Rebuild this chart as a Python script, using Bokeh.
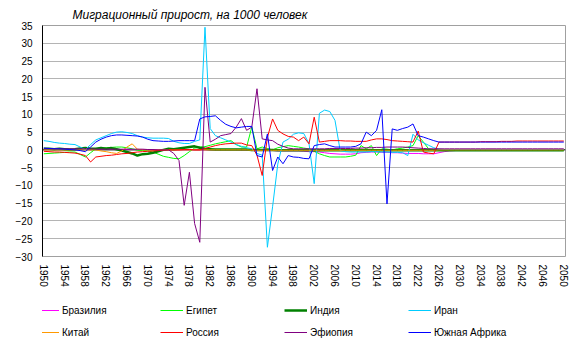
from bokeh.plotting import figure
from bokeh.layouts import column
from bokeh.models import Legend, LegendItem, Span, FixedTicker, Range1d
from bokeh.embed import file_html
from bokeh.resources import INLINE

years = list(range(1950, 2051))

brazil = [0.1]*25 + [0.0]*13 + [-0.1, -0.1] + [-0.2]*5 + [-0.3]*5 + \
    [-0.4, -0.5, -0.5, -0.6, -0.8, -1.0, -1.1, -1.2, -1.2, -1.2] + \
    [-1.1, -0.8, -0.7, -0.6, -0.6, -0.7, -0.7, -0.8, -0.8, -0.9] + \
    [-1.0, -1.0, -1.0, -1.1, -1.1, -1.1, -0.8, -0.5, -0.3, -0.2] + [-0.1]*21

egypt = [-1.1, -1.0, -0.9, -0.8, -0.7, -0.6, -0.6, -1.3, -2.0, -0.8,
         0.3, 0.5, 0.6, 0.7, 0.8, 0.8, 0.6, 0.3, -0.1, -0.2,
         -0.3, -0.6, -1.2, -1.8, -2.1, -2.4, -2.5, -1.6, -0.5, 0.5,
         0.8, 0.9, 1.3, 1.7, 2.0, 2.3, 2.6, 1.5, 0.8, 0.8,
         6.4, 0.3, 0.8, 0.4, 0.0, 0.6, 0.9, 1.2, 1.0, 0.8,
         0.5, 0.3, -0.4, -1.1, -1.6, -2.0, -2.0, -2.0, -2.0, -1.8,
         -1.5, 1.2, 0.3, 1.2, -1.6, 0.3, 0.2, 0.0, 0.3, 0.5,
         0.8, 1.2, 4.0, 2.2, 0.3, 0.0, -0.1, -0.1, -0.1, -0.1] + [-0.1]*21

india = [0.3, 0.3, 0.2, 0.3, 0.2, 0.1, 0.2, 0.4, 0.5, 0.3,
         0.3, 0.5, 0.3, 0.5, 0.2, -0.2, -0.6, -1.0, -1.6, -1.2,
         -1.1, -0.8, -0.4, 0.0, 0.3, 0.2, 0.4, 0.6, 0.8, 1.0,
         0.6, 0.3, 0.2, 0.1, 0.1, 0.1, 0.1, 0.1, 0.1, 0.1,
         0.0, 0.0, 0.0, 0.0, 0.0, -0.1, -0.1, -0.1, -0.1, -0.1] + [-0.1]*51

iran = [2.6, 2.4, 2.1, 1.9, 1.8, 1.6, 1.5, 0.8, 0.1, 1.5,
        2.8, 3.4, 4.0, 4.6, 5.0, 5.1, 4.9, 4.6, 4.0, 3.6,
        3.4, 3.3, 3.3, 3.3, 3.2, 2.4, 2.0, 1.8, 1.8, 2.4,
        2.8, 34.5, 6.0, 4.0, 3.4, 2.8, 2.2, 1.5, 1.0, 0.6,
        0.3, -1.0, -1.5, -27.4, -16.0, -4.0, 2.2, 3.0, 4.4, 4.8,
        4.6, 1.8, -9.5, 10.3, 11.2, 10.8, 8.3, -0.2, -0.5, -0.6,
        -0.6, -0.6, -0.6, -0.5, -0.5, -0.6, -0.6, -0.7, -0.7, -0.8,
        -1.6, 4.4, 2.8, 2.0, 1.3, 0.6, 0.2, 0.1, 0.1, 0.1] + [0.1]*21

china = [0.0]*10 + [0.0, -0.3, -0.5, -0.8, -1.0, -0.3, 0.8, 1.7, 0.2, 0.0] + \
    [0.0]*20 + [-0.1]*36 + [0.0]*25

russia = [-0.4, -0.5, -0.6, -0.6, -0.7, -0.8, -0.9, -1.2, -1.6, -3.4,
          -2.0, -1.8, -1.6, -1.5, -1.3, -1.1, -1.0, -0.8, -0.6, -0.5,
          -0.4, -0.3, -0.2, -0.1, 0.0, 0.0, 0.0, 0.1, 0.1, 0.0,
          0.0, 0.4, 0.8, 1.2, 1.5, 1.7, 1.8, 1.9, 1.9, 1.4,
          1.2, -1.5, -7.2, 3.5, 8.7, 5.5, 4.5, 3.8, 3.6, 2.6,
          3.6, 1.7, 9.2, 2.2, 2.4, 2.6, 2.6, 2.6, 2.5, 2.5,
          2.4, 2.4, 2.4, 2.8, 3.1, 3.1, 2.9, 2.6, 2.5, 2.4,
          2.3, 2.2, 5.3, -0.6, -0.9, -1.1, 2.2, 2.2, 2.2, 2.2,
          2.2, 2.2, 2.2, 2.2, 2.3, 2.3, 2.3, 2.3, 2.4, 2.4,
          2.4, 2.5, 2.5, 2.5, 2.5, 2.5, 2.5, 2.5, 2.5, 2.5, 2.5]

ethiopia = [0.3]*10 + [0.2]*10 + \
    [0.1, 0.1, 0.0, 0.0, 0.0, -1.0, -3.0, -15.6, -6.3, -20.7,
     -26.0, 17.6, 2.2, 3.0, 4.0, 4.3, 4.6, 6.4, 8.8, 5.5,
     6.4, 17.2, 3.1, 2.8, 2.6, 1.6, 1.0, 0.5, 0.3, 0.3,
     0.3, 0.3, 0.3, 0.3, 0.3, 0.4, 0.4, 0.4, 0.4, 0.4,
     0.5, 0.5, 0.6, 0.6, 0.7, 0.7, 0.8, 0.8, 0.8, 0.8,
     0.7, 0.6, 0.5, 0.4, 0.3, 0.3, 0.3, 0.3, 0.3, 0.3] + [0.3]*21

south_africa = [0.5, 0.4, 0.3, 0.3, 0.2, 0.1, 0.0, -0.2, -0.5, 0.8,
                2.2, 3.0, 3.6, 4.0, 4.2, 4.2, 4.1, 4.0, 3.9, 3.6,
                3.0, 2.6, 2.5, 2.4, 2.4, 2.5, 2.6, 2.6, 2.6, 2.6,
                8.7, 9.3, 9.4, 9.6, 8.3, 7.2, 6.6, 6.2, 6.4, 6.6,
                6.6, -1.6, -2.0, 4.5, -5.8, -2.0, -3.9, -1.6, -2.0, -2.1,
                -2.4, -2.5, 1.2, 1.5, 1.7, 1.2, 0.8, 0.8, 0.8, 0.8,
                1.0, 1.7, 5.0, 4.0, 5.5, 11.3, -15.2, 5.9, 5.5, 6.0,
                6.4, 7.3, 4.0, 3.6, 3.1, 2.6, 2.2, 2.2, 2.2, 2.2] + [2.2]*21

series_names = ["Бразилия", "Египет", "Индия", "Иран",
                "Китай", "Россия", "Эфиопия", "Южная Африка"]
series_values = [brazil, egypt, india, iran, china, russia, ethiopia, south_africa]
series_colors = ["#FF00FF", "#00FF00", "#008000", "#00CCFF",
                 "#FF9900", "#FF0000", "#800080", "#0000FF"]
series_widths = [1, 1, 2.5, 1, 1, 1, 1, 1]

y_ticks = list(range(-30, 36, 5))
x_ticks = list(range(1950, 2051, 4))
title_text = "Миграционный прирост, на 1000 человек"

FONT = "Liberation Sans"

p = figure(width=580, height=296, output_backend="svg", toolbar_location=None,
           x_range=Range1d(1949.75, 2050.33), y_range=Range1d(-30, 35),
           min_border_left=42, min_border_right=15, min_border_top=25,
           min_border_bottom=40)

p.title.text = title_text
p.title.text_font = FONT
p.title.text_font_size = "12px"
p.title.text_font_style = "italic"
p.title.text_color = "black"
p.title.align = "left"
p.title.offset = 30
p.title.standoff = 8

p.background_fill_color = "white"
p.border_fill_color = "white"
p.outline_line_color = "#a0a0a0"

p.yaxis.ticker = FixedTicker(ticks=y_ticks)
p.yaxis.major_label_text_font = FONT
p.yaxis.major_label_text_font_size = "10px"
p.yaxis.major_label_text_color = "black"
p.yaxis.major_tick_out = 0
p.yaxis.major_tick_in = 0
p.yaxis.minor_tick_line_color = None
p.yaxis.axis_line_color = "black"
p.yaxis.major_label_standoff = 10

p.xaxis.ticker = FixedTicker(ticks=x_ticks)
p.xaxis.major_label_orientation = "vertical"
p.xaxis.major_label_text_font = FONT
p.xaxis.major_label_text_font_size = "10px"
p.xaxis.major_label_text_color = "black"
p.xaxis.major_tick_out = 0
p.xaxis.major_tick_in = 0
p.xaxis.minor_tick_line_color = None
p.xaxis.axis_line_color = None
p.xaxis.major_label_standoff = 8

p.xgrid.grid_line_color = None
p.ygrid.ticker = FixedTicker(ticks=y_ticks)
p.ygrid.grid_line_color = "#b4b4b4"

zero = Span(location=0, dimension="width", line_color="black", line_width=1,
            level="underlay")
p.add_layout(zero)

for vals, col, w in zip(series_values, series_colors, series_widths):
    p.line(years, vals, line_color=col, line_width=w)

# legend panel below the chart (proxy lines lie outside its visible range)
lg = figure(width=580, height=58, output_backend="svg", toolbar_location=None,
            x_range=Range1d(0, 1), y_range=Range1d(0, 1),
            x_axis_type=None, y_axis_type=None,
            min_border_left=0, min_border_right=0, min_border_top=0,
            min_border_bottom=0)
lg.outline_line_color = None
lg.xgrid.grid_line_color = None
lg.ygrid.grid_line_color = None
lg.background_fill_color = "white"
lg.border_fill_color = "white"

items = []
for name, col, w in zip(series_names, series_colors, series_widths):
    r = lg.line(x=[5, 6], y=[5, 6], line_color=col, line_width=w)
    items.append(LegendItem(label=name, renderers=[r]))

legend = Legend(items=items, orientation="horizontal", ncols=4,
                location=(-6, 11), glyph_width=23, glyph_height=22,
                label_height=22, label_width=98, label_standoff=3,
                spacing=0, padding=0, margin=0,
                label_text_font=FONT, label_text_font_size="10px",
                label_text_color="black", border_line_color=None,
                background_fill_alpha=0)
lg.add_layout(legend)

layout = column(p, lg, spacing=0)
open("out.html", "w").write(file_html(layout, INLINE))
